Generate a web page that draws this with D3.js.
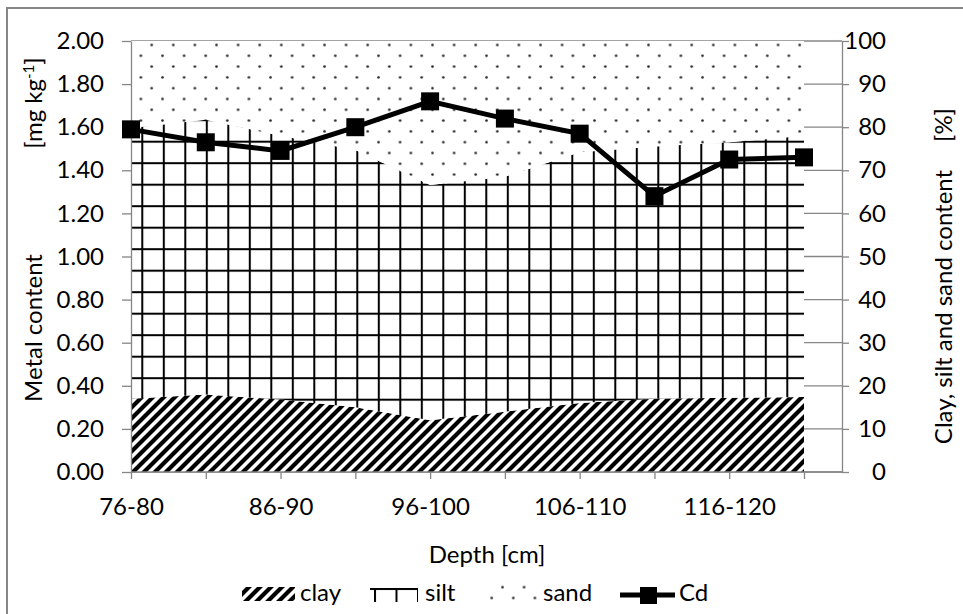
<!DOCTYPE html>
<html>
<head>
<meta charset="utf-8">
<script src="https://cdn.jsdelivr.net/npm/d3@7"></script>
<style>
body { margin: 0; background: #fff; }
text { font-family: Lato, "Open Sans", sans-serif; fill: #000; }
</style>
</head>
<body>
<div id="chart"></div>
<script>
// depth intervals and values
var categories = ["76-80", "81-85", "86-90", "91-95", "96-100", "101-105", "106-110", "111-115", "116-120", "121-125"];
var shownLabels = ["76-80", "86-90", "96-100", "106-110", "116-120"];
var clay = [17, 18, 16.8, 15, 12, 14, 16, 17, 17.2, 17.4];
var silt = [62.8, 63.7, 61.2, 59.7, 54.6, 54.5, 58.2, 58.5, 59.3, 60.6];
var sand = [20.2, 18.3, 22, 25.3, 33.4, 31.5, 25.8, 24.5, 23.5, 22];
var cd = [1.59, 1.53, 1.49, 1.60, 1.72, 1.64, 1.57, 1.28, 1.45, 1.46];
var leftTicks = [0, 0.2, 0.4, 0.6, 0.8, 1.0, 1.2, 1.4, 1.6, 1.8, 2.0];
var rightTicks = [0, 10, 20, 30, 40, 50, 60, 70, 80, 90, 100];

var axisColor = "#868686";
var fontSize = "24px";

function makePattern(defs, id, size, x0, y0, kind) {
    var p = defs.append("pattern")
        .attr("id", id)
        .attr("patternUnits", "userSpaceOnUse")
        .attr("x", x0)
        .attr("y", y0)
        .attr("width", size)
        .attr("height", size);
    p.append("rect")
        .attr("width", size)
        .attr("height", size)
        .attr("fill", "#fff");
    if (kind === "clay") {
        p.append("path")
            .attr("d", "M-2,2 L2,-2 M0," + size + " L" + size + ",0 M" + (size - 2) + "," + (size + 2) + " L" + (size + 2) + "," + (size - 2))
            .attr("stroke", "#000")
            .attr("stroke-width", 4.2);
    } else if (kind === "silt") {
        p.append("rect").attr("x", 0).attr("y", 0).attr("width", 2).attr("height", size).attr("fill", "#000");
        p.append("rect").attr("x", 0).attr("y", 0).attr("width", size).attr("height", 2).attr("fill", "#000");
    } else {
        p.append("circle").attr("cx", 1.5).attr("cy", 1.5).attr("r", 1.3).attr("fill", "#222");
        p.append("circle").attr("cx", 1.5 + size / 2).attr("cy", 1.5 + size / 2).attr("r", 1.3).attr("fill", "#222");
    }
}

function drawChart() {
    var svg = d3.select("#chart").append("svg")
        .attr("width", 963)
        .attr("height", 614);

    var defs = svg.append("defs");
    makePattern(defs, "clayFill", 11, 0, 0, "clay");
    makePattern(defs, "siltFill", 21.5, 141.3, 140.7, "silt");
    makePattern(defs, "sandFill", 21.6, 150.2, 43.5, "sand");
    makePattern(defs, "siltLegend", 21.5, 374, 588, "silt");
    makePattern(defs, "sandLegend", 21.6, 479.4, 585.7, "sand");

    // outer chart border
    svg.append("rect")
        .attr("x", 7)
        .attr("y", 8)
        .attr("width", 1000)
        .attr("height", 1000)
        .attr("fill", "none")
        .attr("stroke", axisColor)
        .attr("stroke-width", 2);

    var x = d3.scalePoint().domain(categories).range([131, 804]);
    var yLeft = d3.scaleLinear().domain([0, 2]).range([472, 41]);
    var yRight = d3.scaleLinear().domain([0, 100]).range([472, 41]);

    // gridlines (mostly hidden under the areas)
    svg.append("g").selectAll("line")
        .data(rightTicks)
        .enter()
        .append("line")
        .attr("x1", 131)
        .attr("x2", 842)
        .attr("y1", function (d) { return yRight(d); })
        .attr("y2", function (d) { return yRight(d); })
        .attr("stroke", axisColor)
        .attr("stroke-width", 1.3);

    // stacked areas: clay, silt, sand
    var rows = categories.map(function (c, i) {
        return { cat: c, clay: clay[i], silt: silt[i], sand: sand[i] };
    });
    var stack = d3.stack().keys(["clay", "silt", "sand"]);
    var fills = { clay: "url(#clayFill)", silt: "url(#siltFill)", sand: "url(#sandFill)" };
    var area = d3.area()
        .x(function (d) { return x(d.data.cat); })
        .y0(function (d) { return yRight(d[0]); })
        .y1(function (d) { return yRight(d[1]); });

    svg.append("g").selectAll("path")
        .data(stack(rows))
        .enter()
        .append("path")
        .attr("d", area)
        .attr("fill", function (d) { return fills[d.key]; });

    // left axis
    var leftAxis = svg.append("g")
        .attr("transform", "translate(131,0)")
        .call(d3.axisLeft(yLeft).tickValues(leftTicks).tickFormat(d3.format(".2f")).tickSize(9).tickSizeOuter(0).tickPadding(18));

    // right axis
    var rightAxis = svg.append("g")
        .attr("transform", "translate(842,0)")
        .call(d3.axisRight(yRight).tickValues(rightTicks).tickSize(7).tickSizeOuter(0));
    rightAxis.selectAll("text").attr("x", 44).attr("text-anchor", "end");

    // bottom axis
    var bottomAxis = svg.append("g")
        .attr("transform", "translate(0,472)")
        .call(d3.axisBottom(x).tickSize(7).tickSizeOuter(0)
            .tickFormat(function (d) { return shownLabels.indexOf(d) >= 0 ? d : ""; }));
    bottomAxis.select(".domain").remove();
    bottomAxis.append("line")
        .attr("x1", 131)
        .attr("x2", 842)
        .attr("stroke", axisColor)
        .attr("stroke-width", 1.3);
    bottomAxis.selectAll("text").attr("y", 43).attr("dy", 0);

    [leftAxis, rightAxis, bottomAxis].forEach(function (g) {
        g.selectAll(".domain, .tick line").attr("stroke", axisColor).attr("stroke-width", 1.3);
        g.selectAll("text").style("font-size", fontSize).attr("fill", "#000");
    });

    // Cd line with square markers
    var line = d3.line()
        .x(function (d, i) { return x(categories[i]); })
        .y(function (d) { return yLeft(d); });

    svg.append("path")
        .datum(cd)
        .attr("d", line)
        .attr("fill", "none")
        .attr("stroke", "#000")
        .attr("stroke-width", 5);

    svg.append("g").selectAll("rect")
        .data(cd)
        .enter()
        .append("rect")
        .attr("x", function (d, i) { return x(categories[i]) - 9; })
        .attr("y", function (d) { return yLeft(d) - 9; })
        .attr("width", 18)
        .attr("height", 18)
        .attr("fill", "#000");

    // axis titles
    svg.append("text")
        .attr("x", 487)
        .attr("y", 563)
        .attr("text-anchor", "middle")
        .style("font-size", fontSize)
        .text("Depth [cm]");

    svg.append("text")
        .attr("transform", "translate(42,328) rotate(-90)")
        .attr("text-anchor", "middle")
        .style("font-size", fontSize)
        .text("Metal content");

    var unit = svg.append("text")
        .attr("transform", "translate(42,103) rotate(-90)")
        .attr("text-anchor", "middle")
        .style("font-size", fontSize);
    unit.append("tspan").text("[mg kg");
    unit.append("tspan").attr("dy", -8).style("font-size", "15px").text("-1");
    unit.append("tspan").attr("dy", 8).text("]");

    svg.append("text")
        .attr("transform", "translate(952,307) rotate(-90)")
        .attr("text-anchor", "middle")
        .style("font-size", fontSize)
        .text("Clay, silt and sand content");

    svg.append("text")
        .attr("transform", "translate(952,125) rotate(-90)")
        .attr("text-anchor", "middle")
        .style("font-size", fontSize)
        .text("[%]");

    // legend
    var legend = svg.append("g");
    legend.append("rect").attr("x", 242).attr("y", 587).attr("width", 53).attr("height", 14).attr("fill", "url(#clayFill)");
    legend.append("rect").attr("x", 370).attr("y", 588).attr("width", 48).attr("height", 14).attr("fill", "url(#siltLegend)");
    legend.append("rect").attr("x", 488).attr("y", 585).attr("width", 50).attr("height", 17).attr("fill", "url(#sandLegend)");
    legend.append("line").attr("x1", 620).attr("x2", 675).attr("y1", 595).attr("y2", 595)
        .attr("stroke", "#000").attr("stroke-width", 5);
    legend.append("rect").attr("x", 640).attr("y", 587).attr("width", 17).attr("height", 17).attr("fill", "#000");

    var legendLabels = [["clay", 300], ["silt", 425], ["sand", 543], ["Cd", 679]];
    legend.selectAll("text")
        .data(legendLabels)
        .enter()
        .append("text")
        .attr("x", function (d) { return d[1]; })
        .attr("y", 601)
        .style("font-size", fontSize)
        .text(function (d) { return d[0]; });
}

drawChart();
</script>
</body>
</html>
